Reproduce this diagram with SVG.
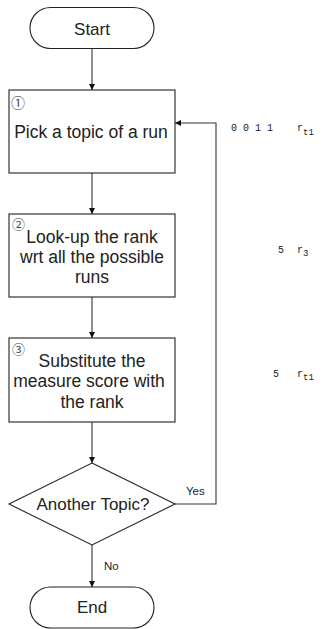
<svg xmlns="http://www.w3.org/2000/svg" width="326" height="629" viewBox="0 0 326 629">
<style>
.shape{fill:#fff;stroke:#222;stroke-width:1.1}
.lbl{font-family:"Liberation Sans",Arial,sans-serif;font-size:17.5px;fill:#222;text-anchor:middle}
.term{font-family:"Liberation Sans",Arial,sans-serif;font-size:17px;fill:#222;text-anchor:middle}
.small{font-family:"Liberation Sans",Arial,sans-serif;font-size:11.5px;fill:#222}
.num{font-family:"Noto Sans CJK JP","DejaVu Sans",sans-serif;fill:#444}
.mono{font-family:"Liberation Mono","Courier New",monospace;font-size:10px;fill:#222}
.sub{font-family:"Liberation Mono","Courier New",monospace;font-size:9px;fill:#222}
.conn{fill:none;stroke:#333;stroke-width:1.1}
</style>
<defs>
<marker id="arr" viewBox="0 0 8 8" refX="8" refY="4" markerWidth="6" markerHeight="6" orient="auto" markerUnits="userSpaceOnUse">
<path d="M0,0 L8,4 L0,8 z" fill="#111"/>
</marker>
</defs>
<g id="connectors">
<line class="conn" x1="92" y1="49" x2="92" y2="90" marker-end="url(#arr)"/>
<line class="conn" x1="92" y1="173" x2="92" y2="214" marker-end="url(#arr)"/>
<line class="conn" x1="92" y1="297" x2="92" y2="338" marker-end="url(#arr)"/>
<line class="conn" x1="92" y1="422" x2="92" y2="463" marker-end="url(#arr)"/>
<line class="conn" x1="92" y1="545" x2="92" y2="587" marker-end="url(#arr)"/>
<polyline class="conn" points="175,504 216,504 216,123 175,123" marker-end="url(#arr)"/>
<text class="small" x="186" y="495">Yes</text>
<text class="small" x="104" y="570">No</text>
</g>
<g id="start">
<rect class="shape" x="30" y="7.5" width="124" height="41" rx="20.5"/>
<text class="term" x="92" y="35">Start</text>
</g>
<g id="step1">
<rect class="shape" x="9" y="90" width="166" height="83"/>
<text class="num" x="11" y="108" font-size="14">①</text>
<text class="lbl" x="91" y="138">Pick a topic of a run</text>
</g>
<g id="step2">
<rect class="shape" x="9" y="214" width="166" height="83"/>
<text class="num" x="12" y="229" font-size="13">②</text>
<text class="lbl" x="92" y="243">Look-up the rank</text>
<text class="lbl" x="92" y="263">wrt all the possible</text>
<text class="lbl" x="92" y="283">runs</text>
</g>
<g id="step3">
<rect class="shape" x="9" y="338" width="166" height="84"/>
<text class="num" x="12" y="354" font-size="13">③</text>
<text class="lbl" x="92" y="367">Substitute the</text>
<text class="lbl" x="89" y="387">measure score with</text>
<text class="lbl" x="92" y="408">the rank</text>
</g>
<g id="decision">
<polygon class="shape" points="92,463 175,504 92,545 9,504"/>
<text class="term" x="93" y="510">Another Topic?</text>
</g>
<g id="end">
<rect class="shape" x="30" y="587" width="124" height="41" rx="20.5"/>
<text class="term" x="92" y="613">End</text>
</g>
<g id="side-text">
<text class="mono" x="231" y="131" xml:space="preserve">0 0 1 1</text>
<text class="mono" x="297" y="131">r</text>
<text class="sub" x="303" y="135">t1</text>
<text class="mono" x="278" y="253">5</text>
<text class="mono" x="297" y="253">r</text>
<text class="sub" x="303" y="256">3</text>
<text class="mono" x="273" y="377">5</text>
<text class="mono" x="297" y="377">r</text>
<text class="sub" x="303" y="380">t1</text>
</g>
</svg>
